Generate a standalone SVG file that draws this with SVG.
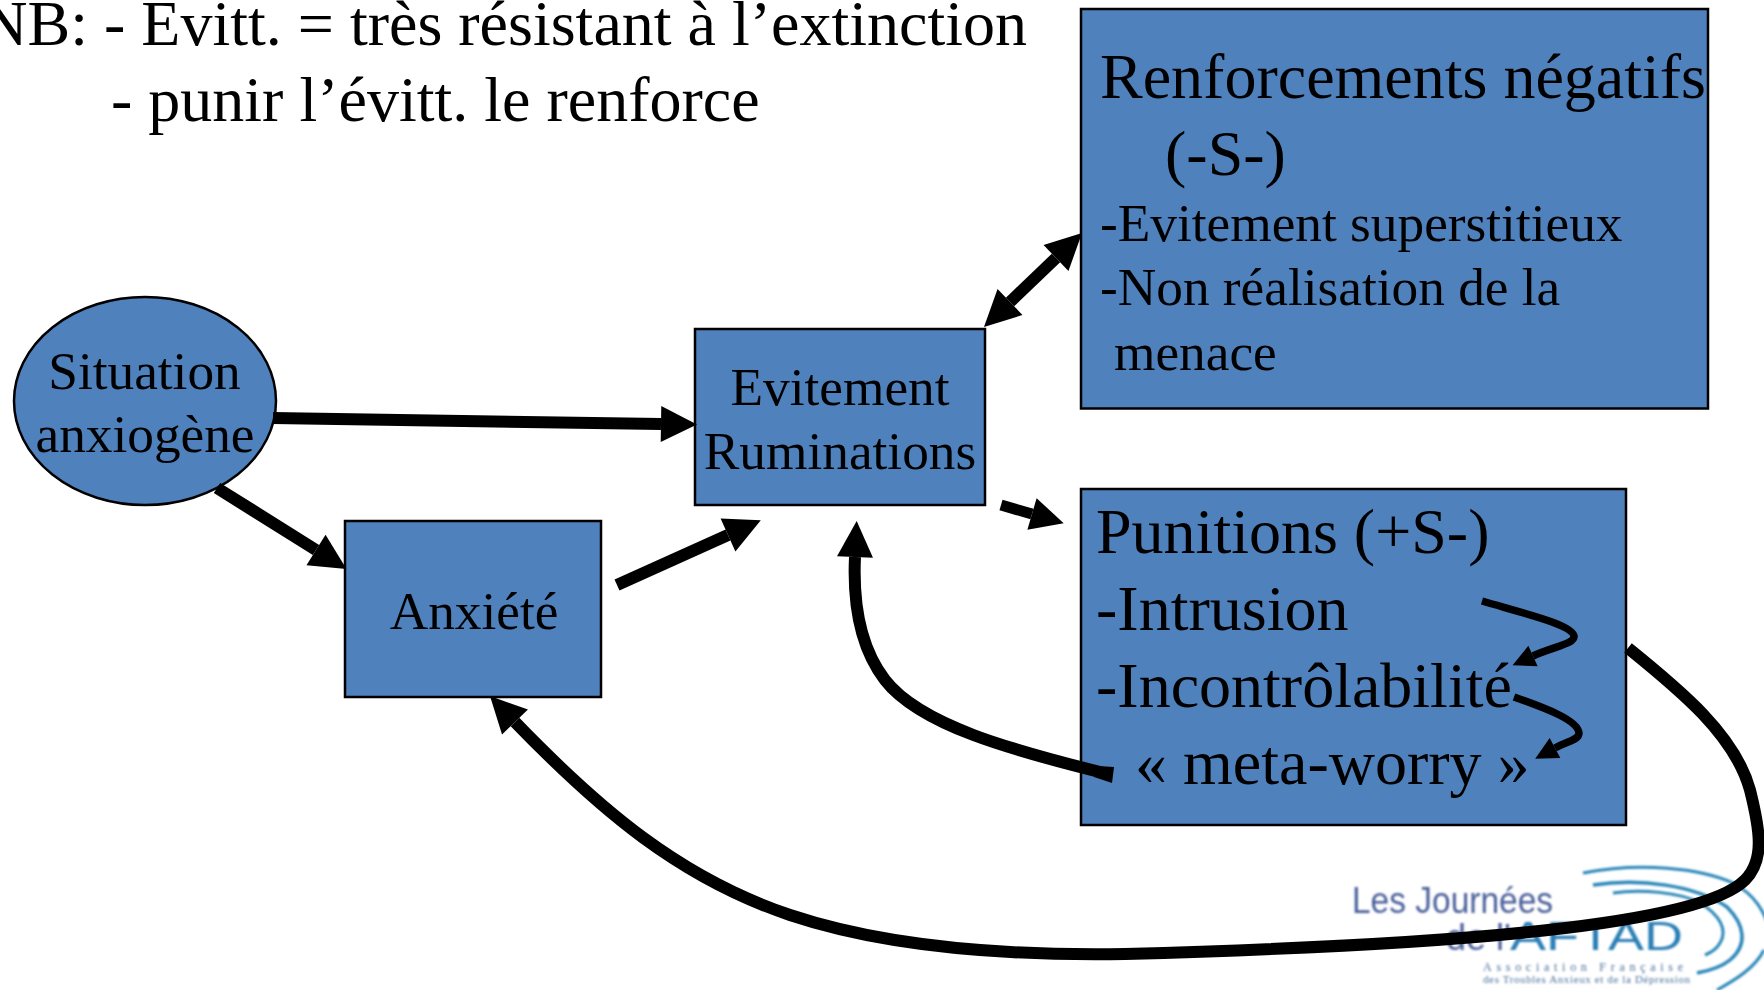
<svg xmlns="http://www.w3.org/2000/svg" width="1764" height="990" viewBox="0 0 1764 990">
<style>
.n{fill:#4f81bd;stroke:#000;stroke-width:2.5}
text{font-family:"Liberation Serif","Times New Roman",serif;fill:#000}
.l{font-size:64px}
.m{font-size:53.3px}
.c{text-anchor:middle}
.a{fill:none;stroke:#000}
.h{marker-end:url(#ah)}
.arc{fill:none;stroke:#2a86b8}
</style>
<defs>
<marker id="ah" markerUnits="strokeWidth" markerWidth="3.2" markerHeight="3.2" refX="0" refY="1.5" orient="auto-start-reverse" overflow="visible"><path d="M0 0L3 1.5L0 3z" fill="#000"/></marker>
<filter id="soft" x="-5%" y="-5%" width="110%" height="110%"><feGaussianBlur stdDeviation="0.8"/></filter>
</defs>
<rect width="1764" height="990" fill="#fff"/>
<g id="logo" filter="url(#soft)">
<path class="arc" stroke-width="3" d="M1583 873C1640 862 1700 868 1733 883C1755 895 1764 910 1772 935"/>
<path class="arc" stroke-width="3" d="M1764 950C1755 968 1735 980 1717 990"/>
<path class="arc" stroke-width="3.5" d="M1593 885C1640 878 1695 885 1727 907C1745 925 1748 945 1730 960C1720 968 1708 971 1697 973" stroke="#1f6a9e"/>
<path class="arc" stroke-width="3" d="M1613 893C1640 889 1680 892 1700 903C1720 915 1728 930 1720 943C1716 950 1710 953 1705 955"/>
<text x="1352" y="913" font-size="37" textLength="201" lengthAdjust="spacingAndGlyphs" style="fill:#4a5f9a;font-family:'Liberation Sans',sans-serif">Les Journées</text>
<text x="1446" y="950" font-size="36" style="fill:#4a5f9a;font-family:'Liberation Sans',sans-serif">de l'</text>
<text x="1510" y="950" font-size="40" textLength="173" lengthAdjust="spacingAndGlyphs" style="fill:#2a7fb5;font-family:'Liberation Sans',sans-serif">AFTAD</text>
<text x="1483" y="971" font-size="12" textLength="200" style="fill:#4a6f9a">Association Française</text>
<text x="1483" y="983" font-size="11" textLength="207" style="fill:#4a6f9a">des Troubles Anxieux et de la Dépression</text>
</g>
<g id="note">
<text class="l" x="1027" y="45" text-anchor="end">NB: - Evitt. = très résistant à l’extinction</text>
<text class="l" x="111" y="121">- punir l’évitt. le renforce</text>
</g>
<g id="situation"><ellipse class="n" cx="145" cy="401" rx="131" ry="104"/>
<text class="m c" x="144.500" y="389">Situation</text><text class="m c" x="145" y="452">anxiogène</text></g>
<g id="evitement"><rect class="n" x="695" y="329" width="290" height="176"/>
<text class="m c" x="840" y="405">Evitement</text><text class="m c" x="840" y="469">Ruminations</text></g>
<g id="anxiete"><rect class="n" x="345" y="521" width="256" height="176"/>
<text class="m c" x="474" y="629">Anxiété</text></g>
<g id="renforcements"><rect class="n" x="1081" y="9" width="627" height="399.500"/>
<text class="l" x="1100" y="98">Renforcements négatifs</text><text class="l" x="1165" y="175">(-S-)</text>
<text class="m" x="1100" y="241">-Evitement superstitieux</text>
<text class="m" x="1100" y="305">-Non réalisation de la</text>
<text class="m" x="1114" y="370">menace</text></g>
<g id="punitions"><rect class="n" x="1081" y="489" width="545" height="336"/>
<text class="l" x="1096" y="553">Punitions (+S-)</text>
<text class="l" x="1096" y="630">-Intrusion</text>
<text class="l" x="1096" y="707">-Incontrôlabilité</text>
<text class="l" x="1135" y="784">« meta-worry »</text></g>
<g id="connectors">
<path class="a h" stroke-width="12" d="M273 418L661 424"/>
<path class="a h" stroke-width="12" d="M217 488L316 550"/>
<path class="a h" stroke-width="12" d="M617 585L728 535"/>
<path class="a h" stroke-width="11" d="M1001 505L1032 514"/>
<path class="a" stroke-width="12" marker-start="url(#ah)" marker-end="url(#ah)" d="M1010 302L1056 258"/>
<path class="a h" stroke-width="12" d="M1112 775C1010 750 920 725 885 680C858 645 853 600 855 557"/>
<path d="M1114 767L1112 783L1094 777L1098 766z" fill="#000"/>
<path class="a h" stroke-width="12" d="M1628 648C1680 690 1735 735 1750 790C1760 830 1765 860 1745 880C1700 925 1460 945 1125 954C1000 956 880 945 790 915C680 878 600 810 515 722"/>
<path class="a h" stroke-width="7.500" d="M1482 601C1530 615 1572 625 1574 636C1575 644 1555 646 1533 656"/>
<path class="a h" stroke-width="7.500" d="M1514 697C1545 708 1578 720 1579 733C1579 740 1568 741 1555 748"/>
</g>
</svg>
